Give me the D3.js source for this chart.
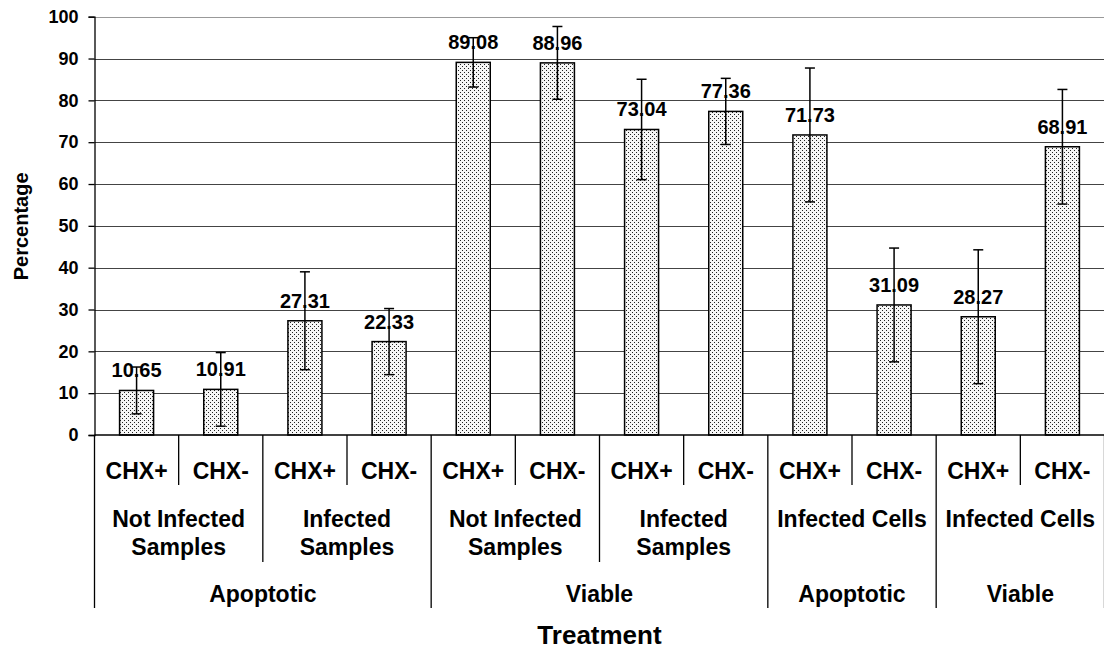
<!DOCTYPE html>
<html>
<head>
<meta charset="utf-8">
<script src="https://cdn.jsdelivr.net/npm/d3@7"></script>
<style>
  body { margin: 0; background: #fff; }
  text { font-family: "Liberation Sans", Arial, sans-serif; font-weight: bold; fill: #000; }
</style>
</head>
<body>
<div id="vis-container"></div>
<script>
// chart data
var conditions = ["CHX+", "CHX-", "CHX+", "CHX-", "CHX+", "CHX-", "CHX+", "CHX-", "CHX+", "CHX-", "CHX+", "CHX-"];
var samples = [["Not Infected", "Samples"], ["Infected", "Samples"], ["Not Infected", "Samples"], ["Infected", "Samples"], ["Infected Cells"], ["Infected Cells"]];
var sampleSpans = [2, 2, 2, 2, 2, 2];
var states = ["Apoptotic", "Viable", "Apoptotic", "Viable"];
var stateSpans = [4, 4, 2, 2];
var values = [10.65, 10.91, 27.31, 22.33, 89.08, 88.96, 73.04, 77.36, 71.73, 31.09, 28.27, 68.91];
var errors = [5.6, 8.8, 11.7, 7.9, 5.9, 8.7, 12.0, 7.9, 16.0, 13.6, 16.0, 13.7];
var yTicks = [0, 10, 20, 30, 40, 50, 60, 70, 80, 90, 100];

var W = 1104, H = 649;
var plotLeft = 94.5, plotRight = 1104.5, plotTop = 16.7, plotBottom = 435;

var svg = d3.select("#vis-container")
    .append("svg")
    .attr("width", W)
    .attr("height", H);

// dotted fill like the old spreadsheet pattern
var pat = svg.append("defs").append("pattern")
    .attr("id", "dots")
    .attr("patternUnits", "userSpaceOnUse")
    .attr("width", 4).attr("height", 4);
pat.append("rect").attr("width", 4).attr("height", 4).attr("fill", "#f6f6f6");
pat.append("rect").attr("x", 0).attr("y", 0).attr("width", 1).attr("height", 1).attr("fill", "#222");
pat.append("rect").attr("x", 2).attr("y", 2).attr("width", 1).attr("height", 1).attr("fill", "#222");

var xScale = d3.scaleBand()
    .domain(d3.range(values.length))
    .range([plotLeft, plotRight])
    .paddingInner(0).paddingOuter(0);

var yScale = d3.scaleLinear()
    .domain([0, 100])
    .range([plotBottom, plotTop]);

var bw = xScale.bandwidth() * 0.404;
var cx = function(i) { return xScale(i) + xScale.bandwidth() / 2; };

// gridlines
svg.append("g")
    .selectAll("line")
    .data(yTicks.filter(function(d) { return d > 0; }))
    .enter().append("line")
    .attr("x1", plotLeft).attr("x2", plotRight)
    .attr("y1", function(d) { return Math.round(yScale(d)) + 0.5; })
    .attr("y2", function(d) { return Math.round(yScale(d)) + 0.5; })
    .attr("stroke", function(d) { return d == 100 ? "#999" : "#444"; })
    .attr("stroke-width", 1);

// y axis
var yAxis = d3.axisLeft(yScale)
    .tickValues(yTicks)
    .tickSize(6)
    .tickPadding(10);

var yg = svg.append("g")
    .attr("transform", "translate(" + plotLeft + ",0)")
    .call(yAxis);
yg.select(".domain").attr("stroke", "#000").attr("stroke-width", 1.3);
yg.selectAll(".tick line").attr("stroke", "#000").attr("stroke-width", 1.3);
yg.selectAll(".tick text")
    .style("font-family", "'Liberation Sans', Arial, sans-serif")
    .style("font-weight", "bold")
    .style("font-size", "18px")
    .attr("fill", "#000");

// bars
svg.append("g")
    .selectAll("rect")
    .data(values)
    .enter().append("rect")
    .attr("x", function(d, i) { return cx(i) - bw / 2; })
    .attr("width", bw)
    .attr("y", function(d) { return yScale(d); })
    .attr("height", function(d) { return plotBottom - yScale(d); })
    .attr("fill", "url(#dots)")
    .attr("stroke", "#000")
    .attr("stroke-width", 1.5);

// value labels
svg.append("g")
    .selectAll("text")
    .data(values)
    .enter().append("text")
    .attr("x", function(d, i) { return cx(i); })
    .attr("y", function(d) { return yScale(d) - 13; })
    .attr("text-anchor", "middle")
    .style("font-size", "20px")
    .text(function(d) { return d.toFixed(2); });

// error bars
var eb = svg.append("g").attr("stroke", "#000").attr("stroke-width", 1.5);
values.forEach(function(v, i) {
    var x = cx(i), y1 = yScale(v + errors[i]), y2 = yScale(v - errors[i]);
    eb.append("line").attr("x1", x).attr("x2", x).attr("y1", y1).attr("y2", y2);
    eb.append("line").attr("x1", x - 5).attr("x2", x + 5).attr("y1", y1).attr("y2", y1);
    eb.append("line").attr("x1", x - 5).attr("x2", x + 5).attr("y1", y2).attr("y2", y2);
});

// x axis baseline
svg.append("line")
    .attr("x1", plotLeft).attr("x2", plotRight)
    .attr("y1", plotBottom).attr("y2", plotBottom)
    .attr("stroke", "#000").attr("stroke-width", 1.3);

// multi-level category axis
var lvl1Bottom = 485, lvl2Bottom = 562, lvl3Bottom = 608;
var divs = svg.append("g").attr("stroke", "#000").attr("stroke-width", 1.3);

// divider depth for each category boundary
var edgeDepth = {};
d3.range(values.length + 1).forEach(function(i) { edgeDepth[i] = lvl1Bottom; });
var acc = 0;
sampleSpans.forEach(function(s) { edgeDepth[acc] = lvl2Bottom; acc += s; edgeDepth[acc] = lvl2Bottom; });
acc = 0;
stateSpans.forEach(function(s) { edgeDepth[acc] = lvl3Bottom; acc += s; edgeDepth[acc] = lvl3Bottom; });

d3.range(values.length + 1).forEach(function(i) {
    var x = i < values.length ? xScale(i) : plotRight;
    divs.append("line")
        .attr("x1", x).attr("x2", x)
        .attr("y1", plotBottom).attr("y2", edgeDepth[i]);
});

// level 1 labels
svg.append("g")
    .selectAll("text")
    .data(conditions)
    .enter().append("text")
    .attr("x", function(d, i) { return cx(i); })
    .attr("y", 479)
    .attr("text-anchor", "middle")
    .style("font-size", "23px")
    .text(function(d) { return d; });

// level 2 labels
acc = 0;
samples.forEach(function(lines, k) {
    var x0 = xScale(acc), x1 = xScale(acc + sampleSpans[k] - 1) + xScale.bandwidth();
    var t = svg.append("text")
        .attr("x", (x0 + x1) / 2)
        .attr("y", 526.5)
        .attr("text-anchor", "middle")
        .style("font-size", "23px");
    lines.forEach(function(l, j) {
        t.append("tspan").attr("x", (x0 + x1) / 2).attr("dy", j == 0 ? 0 : 28.5).text(l);
    });
    acc += sampleSpans[k];
});

// level 3 labels
acc = 0;
states.forEach(function(s, k) {
    var x0 = xScale(acc), x1 = xScale(acc + stateSpans[k] - 1) + xScale.bandwidth();
    svg.append("text")
        .attr("x", (x0 + x1) / 2)
        .attr("y", 601.5)
        .attr("text-anchor", "middle")
        .style("font-size", "23px")
        .text(s);
    acc += stateSpans[k];
});

// axis titles
svg.append("text")
    .attr("transform", "translate(27.5," + ((plotTop + plotBottom) / 2 + 0.5) + ") rotate(-90)")
    .attr("text-anchor", "middle")
    .style("font-size", "20px")
    .text("Percentage");

svg.append("text")
    .attr("x", (plotLeft + plotRight) / 2)
    .attr("y", 644)
    .attr("text-anchor", "middle")
    .style("font-size", "26px")
    .text("Treatment");
</script>
</body>
</html>
